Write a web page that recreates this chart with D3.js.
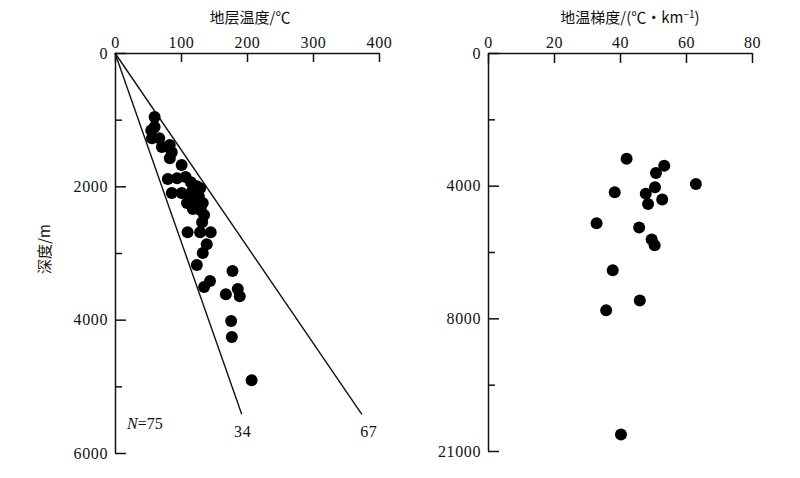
<!DOCTYPE html>
<html>
<head>
<meta charset="utf-8">
<script src="https://cdn.jsdelivr.net/npm/d3@7"></script>
<style>
  body { margin: 0; background: #fff; }
  svg { display: block; }
  .cjk { font-family: "Noto Sans CJK SC", sans-serif; font-size: 15px; fill: #111; }
</style>
</head>
<body>
<svg id="chart" width="800" height="478"></svg>
<script>
// temperatura (°C) y profundidad (m) de los pozos, panel izquierdo
const tempPozo = [60, 60, 55, 56, 67, 71, 83, 86, 83, 101, 80, 94, 107, 115, 129, 86, 101, 117, 127, 109,
  122, 133, 118, 130, 132, 110, 129, 145, 139, 133, 124, 178, 144, 135, 168, 186, 189, 176, 177, 207,
  124, 135, 114];
const profPozo = [960, 1110, 1160, 1280, 1280, 1410, 1380, 1490, 1580, 1680, 1890, 1880, 1860, 1940, 2030, 2100, 2100, 2070, 2150, 2250,
  2240, 2250, 2340, 2360, 2540, 2690, 2690, 2690, 2870, 3000, 3180, 3270, 3420, 3510, 3620, 3540, 3650, 4020, 4260, 4910,
  2000, 2430, 2180];

// rectas de gradiente
const gradientes = ['34', '67'];
const gradTempFin = [192, 374];
const gradProfFin = 5420;

// gradiente geotérmico (°C/km) y profundidad, panel derecho
const gradValor = [42.0, 53.4, 50.9, 63.0, 50.6, 38.4, 47.8, 52.8, 48.5, 32.9, 45.8, 49.6, 50.5, 37.8, 46.0, 35.8, 40.3];
const gradProf = [3190, 3400, 3620, 3950, 4050, 4200, 4240, 4420, 4550, 5130, 5260, 5620, 5800, 6550, 7460, 7760, 11500];

const ticksTemp = [0, 100, 200, 300, 400];
const ticksProf = [0, 2000, 4000, 6000];
const ticksGrad = [0, 20, 40, 60, 80];
const ticksProfDer = [0, 4000, 8000, 12000];
const etiquetasProfDer = ['0', '4000', '8000', '21000'];

const fuenteNum = '"Liberation Serif", "DejaVu Serif", serif';
const svg = d3.select('#chart');

// estilo común de los ejes
function estiloEje(g) {
  g.selectAll('.domain, .tick line').attr('stroke', '#111').attr('stroke-width', 1.5);
  g.selectAll('text')
    .attr('font-family', fuenteNum)
    .attr('font-size', 16)
    .attr('letter-spacing', 0.6)
    .attr('fill', '#111');
}

// ---------- panel izquierdo ----------
const x1 = d3.scaleLinear().domain([0, 400]).range([115, 379]);
const y1 = d3.scaleLinear().domain([0, 6000]).range([53, 453]);

svg.append('g')
  .attr('transform', `translate(0, ${y1(0)})`)
  .call(d3.axisTop(x1).tickValues(ticksTemp).tickSize(-9).tickPadding(5).tickSizeOuter(0).tickFormat(d3.format('d')))
  .call(estiloEje);

svg.append('g')
  .attr('transform', `translate(${x1(0)}, 0)`)
  .call(d3.axisLeft(y1).tickValues(ticksProf).tickSize(-11).tickPadding(7).tickSizeOuter(0).tickFormat(d3.format('d')))
  .call(estiloEje);

svg.append('g')
  .attr('transform', `translate(${x1(0)}, 0)`)
  .call(d3.axisLeft(y1).tickValues([1000, 3000, 5000]).tickSize(-7).tickFormat(''))
  .call(estiloEje)
  .select('.domain').remove();

svg.append('text').attr('class', 'cjk')
  .attr('x', 250).attr('y', 23).attr('text-anchor', 'middle')
  .text('地层温度/℃');

svg.append('text').attr('class', 'cjk')
  .attr('transform', 'translate(50, 249) rotate(-90)')
  .attr('text-anchor', 'middle')
  .text('深度/m');

// rectas de gradiente
const linea = d3.line().x(d => x1(d[0])).y(d => y1(d[1]));
gradientes.forEach((g, i) => {
  svg.append('path')
    .attr('d', linea([[0, 0], [gradTempFin[i], gradProfFin]]))
    .attr('fill', 'none')
    .attr('stroke', '#111')
    .attr('stroke-width', 1.4);
  svg.append('text')
    .attr('font-family', fuenteNum).attr('font-size', 16).attr('letter-spacing', 0.6).attr('fill', '#111')
    .attr('x', x1(gradTempFin[i]) + (i === 0 ? 1 : 7))
    .attr('y', y1(gradProfFin) + 23)
    .attr('text-anchor', 'middle')
    .text(g);
});

svg.selectAll('.pozo')
  .data(tempPozo)
  .enter()
  .append('circle')
  .attr('class', 'pozo')
  .attr('cx', d => x1(d))
  .attr('cy', (d, i) => y1(profPozo[i]))
  .attr('r', 6)
  .attr('fill', '#000');

const nTexto = svg.append('text')
  .attr('font-family', fuenteNum).attr('font-size', 16).attr('fill', '#111')
  .attr('x', 127).attr('y', 429);
nTexto.append('tspan').attr('font-style', 'italic').text('N');
nTexto.append('tspan').text('=75');

// ---------- panel derecho ----------
const x2 = d3.scaleLinear().domain([0, 80]).range([488, 752]);
const y2 = d3.scaleLinear().domain([0, 12000]).range([53, 451]);

svg.append('g')
  .attr('transform', `translate(0, ${y2(0)})`)
  .call(d3.axisTop(x2).tickValues(ticksGrad).tickSize(-10).tickPadding(5).tickSizeOuter(0))
  .call(estiloEje);

svg.append('g')
  .attr('transform', `translate(${x2(0)}, 0)`)
  .call(d3.axisLeft(y2).tickValues(ticksProfDer).tickSize(-11).tickPadding(7).tickSizeOuter(0)
    .tickFormat((d, i) => etiquetasProfDer[i]))
  .call(estiloEje);

svg.append('g')
  .attr('transform', `translate(${x2(0)}, 0)`)
  .call(d3.axisLeft(y2).tickValues([2000, 6000, 10000]).tickSize(-7).tickFormat(''))
  .call(estiloEje)
  .select('.domain').remove();

const titulo2 = svg.append('text').attr('class', 'cjk')
  .attr('x', 630).attr('y', 23).attr('text-anchor', 'middle');
titulo2.append('tspan').text('地温梯度/(℃·km');
titulo2.append('tspan').attr('dy', -5).attr('font-size', 10).text('−1');
titulo2.append('tspan').attr('dy', 5).text(')');

svg.selectAll('.grad')
  .data(gradValor)
  .enter()
  .append('circle')
  .attr('class', 'grad')
  .attr('cx', d => x2(d))
  .attr('cy', (d, i) => y2(gradProf[i]))
  .attr('r', 6)
  .attr('fill', '#000');
</script>
</body>
</html>
